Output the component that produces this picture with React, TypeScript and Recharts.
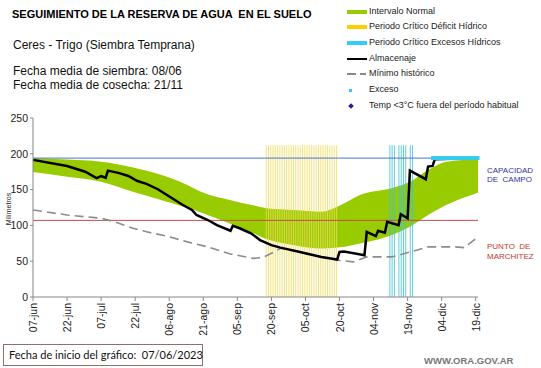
import React from 'react';
import {
  ComposedChart,
  Area,
  Bar,
  Line,
  Scatter,
  XAxis,
  YAxis,
  ReferenceLine,
} from 'recharts';

// dias contados desde el 07/06
const TICK_DAYS = [0, 15, 30, 45, 60, 75, 90, 105, 120, 135, 150, 165, 180, 195];
const TICK_LABELS = [
  '07-jun', '22-jun', '07-jul', '22-jul', '06-ago', '21-ago', '05-sep',
  '20-sep', '05-oct', '20-oct', '04-nov', '19-nov', '04-dic', '19-dic',
];
const Y_TICKS = [0, 50, 100, 150, 200, 250];

const CAPACIDAD_CAMPO = 194;
const PUNTO_MARCHITEZ = 107;
const PERIODO_TOPE = 212;

// intervalo normal
const BAND_DAYS = [0, 15, 30, 44, 59, 68, 74, 88, 97, 103, 115, 127, 134, 144, 159, 166, 174, 182, 196];
const BAND_HIGH = [194, 192, 189, 181, 168, 156.5, 147, 134.5, 128, 124, 121.5, 119, 126, 142.5, 153, 161, 177.5, 189, 192.5];
const BAND_LOW = [174.5, 168, 161, 147, 133, 124.5, 118, 101, 89, 80.5, 72.4, 67.8, 69, 74.8, 87.8, 98, 114.5, 128.5, 145.7];

// almacenaje
const ALM_DAYS = [
  0, 15, 23, 28, 30, 32, 33, 38, 42, 46, 50, 55, 59, 62, 66, 70, 72, 77, 81, 87, 88,
  91, 96, 100, 105, 109, 119, 127, 134, 135, 137, 146, 147, 151, 152, 155, 156, 161,
  162, 165, 166, 173, 174, 176, 177, 187,
];
const ALM_VALUES = [
  191.5, 183, 175, 166, 169, 166.5, 176.5, 173, 169, 162, 158, 150.5, 142.5, 136.5,
  128.5, 121.5, 114.5, 107.5, 100.5, 92.5, 99.5, 96, 89, 79.5, 72.5, 69, 61.7, 56,
  52.4, 63, 63.6, 58.4, 91, 85, 92.5, 89.7, 105, 100.4, 115.5, 109.8, 176.6, 164.5,
  182.2, 183, 192.5, 193.5,
];

// minimo historico
const MIN_DAYS = [0, 15, 30, 36, 44, 50, 59, 68, 77, 87, 97, 101, 105, 109, 115, 121, 127, 134, 141, 147, 158, 164, 174, 186, 190, 196];
const MIN_VALUES = [121.5, 114.5, 110, 105, 96, 91, 85, 77, 70, 60, 54, 55, 61, 68, 65, 60, 56, 51.5, 49, 56, 56, 61, 70, 70, 69, 84];

// periodos criticos
const DEFICIT_DAYS = [
  103, 104, 105, 106, 107, 108, 109, 110, 111, 112, 113, 114, 115, 116, 117, 118,
  119, 120, 121, 122, 123, 124, 125, 126, 127, 128, 129, 130, 131, 132, 133, 134,
];
const EXCESOS_DAYS = [157, 158, 159, 161, 162, 163, 164, 166, 167];
const EXCESO_DAYS = [176, 177, 178, 179, 180, 181, 182, 183, 184, 185, 186, 187, 188, 189, 190, 191, 192, 193, 194, 195, 196];

const rows: any[] = Array.from({ length: 197 }, (_, day) => ({ day }));
BAND_DAYS.forEach((d, i) => (rows[d].band = [BAND_LOW[i], BAND_HIGH[i]]));
ALM_DAYS.forEach((d, i) => (rows[d].alm = ALM_VALUES[i]));
MIN_DAYS.forEach((d, i) => (rows[d].min = MIN_VALUES[i]));
DEFICIT_DAYS.forEach((d) => (rows[d].deficit = PERIODO_TOPE));
EXCESOS_DAYS.forEach((d) => (rows[d].excesos = PERIODO_TOPE));
const excesoData = EXCESO_DAYS.map((d) => ({ day: d, exceso: CAPACIDAD_CAMPO }));

const FONT = '"Liberation Sans", Arial, sans-serif';

const XTick = (props: any) => {
  const { x, y, payload } = props;
  const label = TICK_LABELS[TICK_DAYS.indexOf(payload.value)];
  return (
    <text
      x={x}
      y={y}
      transform={`rotate(-90, ${x}, ${y})`}
      textAnchor="end"
      dominantBaseline="central"
      fontSize={10.5}
      fontFamily={FONT}
      fill="#222"
    >
      {label}
    </text>
  );
};

const ExcesoDot = (props: any) => {
  const { cx, cy } = props;
  return <rect x={cx - 1.5} y={cy - 2} width={3} height={4} fill="#33ccee" />;
};

const legendRows = [
  { y: 12, text: 'Intervalo Normal', kind: 'green' },
  { y: 27, text: 'Periodo Crítico Déficit Hídrico', kind: 'yellow' },
  { y: 43, text: 'Periodo Crítico Excesos Hídricos', kind: 'cyan' },
  { y: 59, text: 'Almacenaje', kind: 'black' },
  { y: 74, text: 'Mínimo histórico', kind: 'dash' },
  { y: 90, text: 'Exceso', kind: 'dot' },
  { y: 106, text: 'Temp <3°C fuera del período habitual', kind: 'diamond' },
];

const Swatch = ({ kind, y }: { kind: string; y: number }) => {
  const base: React.CSSProperties = { position: 'absolute', left: 347 };
  if (kind === 'green' || kind === 'yellow' || kind === 'cyan') {
    const c = kind === 'green' ? '#99cc00' : kind === 'yellow' ? '#ffcc00' : '#33ccff';
    return <div style={{ ...base, top: y - 2, width: 20, height: 4, background: c }} />;
  }
  if (kind === 'black') return <div style={{ ...base, top: y - 1, width: 20, height: 2, background: '#000' }} />;
  if (kind === 'dash')
    return (
      <>
        <div style={{ ...base, top: y - 1, width: 9, height: 1.5, background: '#888' }} />
        <div style={{ ...base, left: 360, top: y - 1, width: 6, height: 1.5, background: '#888' }} />
      </>
    );
  if (kind === 'dot') return <div style={{ ...base, left: 349, top: y - 1, width: 3, height: 3, background: '#33ccee' }} />;
  return (
    <div
      style={{ ...base, left: 349, top: y - 2, width: 4, height: 4, background: '#1f1f9f', transform: 'rotate(45deg)' }}
    />
  );
};

const txt = (extra: React.CSSProperties): React.CSSProperties => ({
  position: 'absolute',
  fontFamily: FONT,
  whiteSpace: 'pre',
  lineHeight: 1,
  ...extra,
});

export default function App() {
  return (
    <div style={{ position: 'absolute', left: 0, top: 0, width: 541, height: 368, background: '#fff', overflow: 'hidden' }}>
      <div style={txt({ left: 12, top: 9, fontSize: 11, fontWeight: 'bold', color: '#000' })}>
        SEGUIMIENTO DE LA RESERVA DE AGUA  EN EL SUELO
      </div>
      <div style={txt({ left: 13, top: 39, fontSize: 12, color: '#111' })}>Ceres - Trigo (Siembra Temprana)</div>
      <div style={txt({ left: 13, top: 65, fontSize: 12, color: '#111' })}>Fecha media de siembra: 08/06</div>
      <div style={txt({ left: 13, top: 79, fontSize: 12, color: '#111' })}>Fecha media de cosecha: 21/11</div>

      {legendRows.map((r) => (
        <React.Fragment key={r.text}>
          <Swatch kind={r.kind} y={r.y} />
          <div style={txt({ left: 369, top: r.y - 5, fontSize: 9, color: '#222' })}>{r.text}</div>
        </React.Fragment>
      ))}

      <ComposedChart
        width={541}
        height={368}
        data={rows}
        margin={{ top: 118, right: 63, bottom: 31, left: 0 }}
      >
        <XAxis
          dataKey="day"
          type="number"
          domain={[0, 196]}
          ticks={TICK_DAYS}
          interval={0}
          tick={<XTick />}
          tickSize={4}
          tickMargin={2}
          height={40}
          axisLine={{ stroke: '#888' }}
          tickLine={{ stroke: '#888' }}
        />
        <YAxis
          type="number"
          domain={[0, 250]}
          ticks={Y_TICKS}
          interval={0}
          width={33}
          tickSize={3}
          tickMargin={2}
          tick={{ fontSize: 10.5, fill: '#222', fontFamily: FONT }}
          axisLine={{ stroke: '#888' }}
          tickLine={{ stroke: '#888' }}
        />
        <Area
          dataKey="band"
          type="monotone"
          fill="#99cc00"
          fillOpacity={1}
          stroke="none"
          connectNulls
          isAnimationActive={false}
        />
        <Bar dataKey="deficit" barSize={1.3} fill="#f0dc5c" fillOpacity={0.8} isAnimationActive={false} />
        <Bar dataKey="excesos" barSize={1.3} fill="#3cc0dc" fillOpacity={0.8} isAnimationActive={false} />
        <ReferenceLine y={CAPACIDAD_CAMPO} stroke="#4a74c9" strokeWidth={1} />
        <ReferenceLine y={PUNTO_MARCHITEZ} stroke="#c0504d" strokeWidth={1} />
        <Line
          dataKey="min"
          type="linear"
          stroke="#8c8c8c"
          strokeWidth={1.6}
          strokeDasharray="9 5"
          dot={false}
          connectNulls
          isAnimationActive={false}
        />
        <Line
          dataKey="alm"
          type="linear"
          stroke="#000"
          strokeWidth={2.5}
          dot={false}
          connectNulls
          isAnimationActive={false}
        />
        <Scatter data={excesoData} dataKey="exceso" shape={<ExcesoDot />} isAnimationActive={false} />
      </ComposedChart>

      <div
        style={txt({
          left: 8,
          top: 209,
          fontSize: 7,
          color: '#222',
          transform: 'translate(-50%, -50%) rotate(-90deg)',
        })}
      >
        Milímetros
      </div>

      <div style={txt({ left: 487, top: 166, fontSize: 8, color: '#33339a', lineHeight: '9px' })}>
        {'CAPACIDAD\nDE  CAMPO'}
      </div>
      <div style={txt({ left: 487, top: 242, fontSize: 8, color: '#c0392b', lineHeight: '9.5px' })}>
        {'PUNTO  DE\nMARCHITEZ'}
      </div>

      <div
        style={{
          position: 'absolute',
          left: 3,
          top: 344,
          width: 200,
          height: 22,
          boxSizing: 'border-box',
          border: '1px solid #8a7070',
        }}
      />
      <div style={txt({ left: 9, top: 349, fontSize: 11, color: '#111', fontFamily: 'Lato, "Open Sans", sans-serif' })}>
        Fecha de inicio del gráfico:  07/06/2023
      </div>
      <div style={txt({ left: 424, top: 356, fontSize: 9.5, color: '#777', fontWeight: 600 })}>WWW.ORA.GOV.AR</div>
    </div>
  );
}
